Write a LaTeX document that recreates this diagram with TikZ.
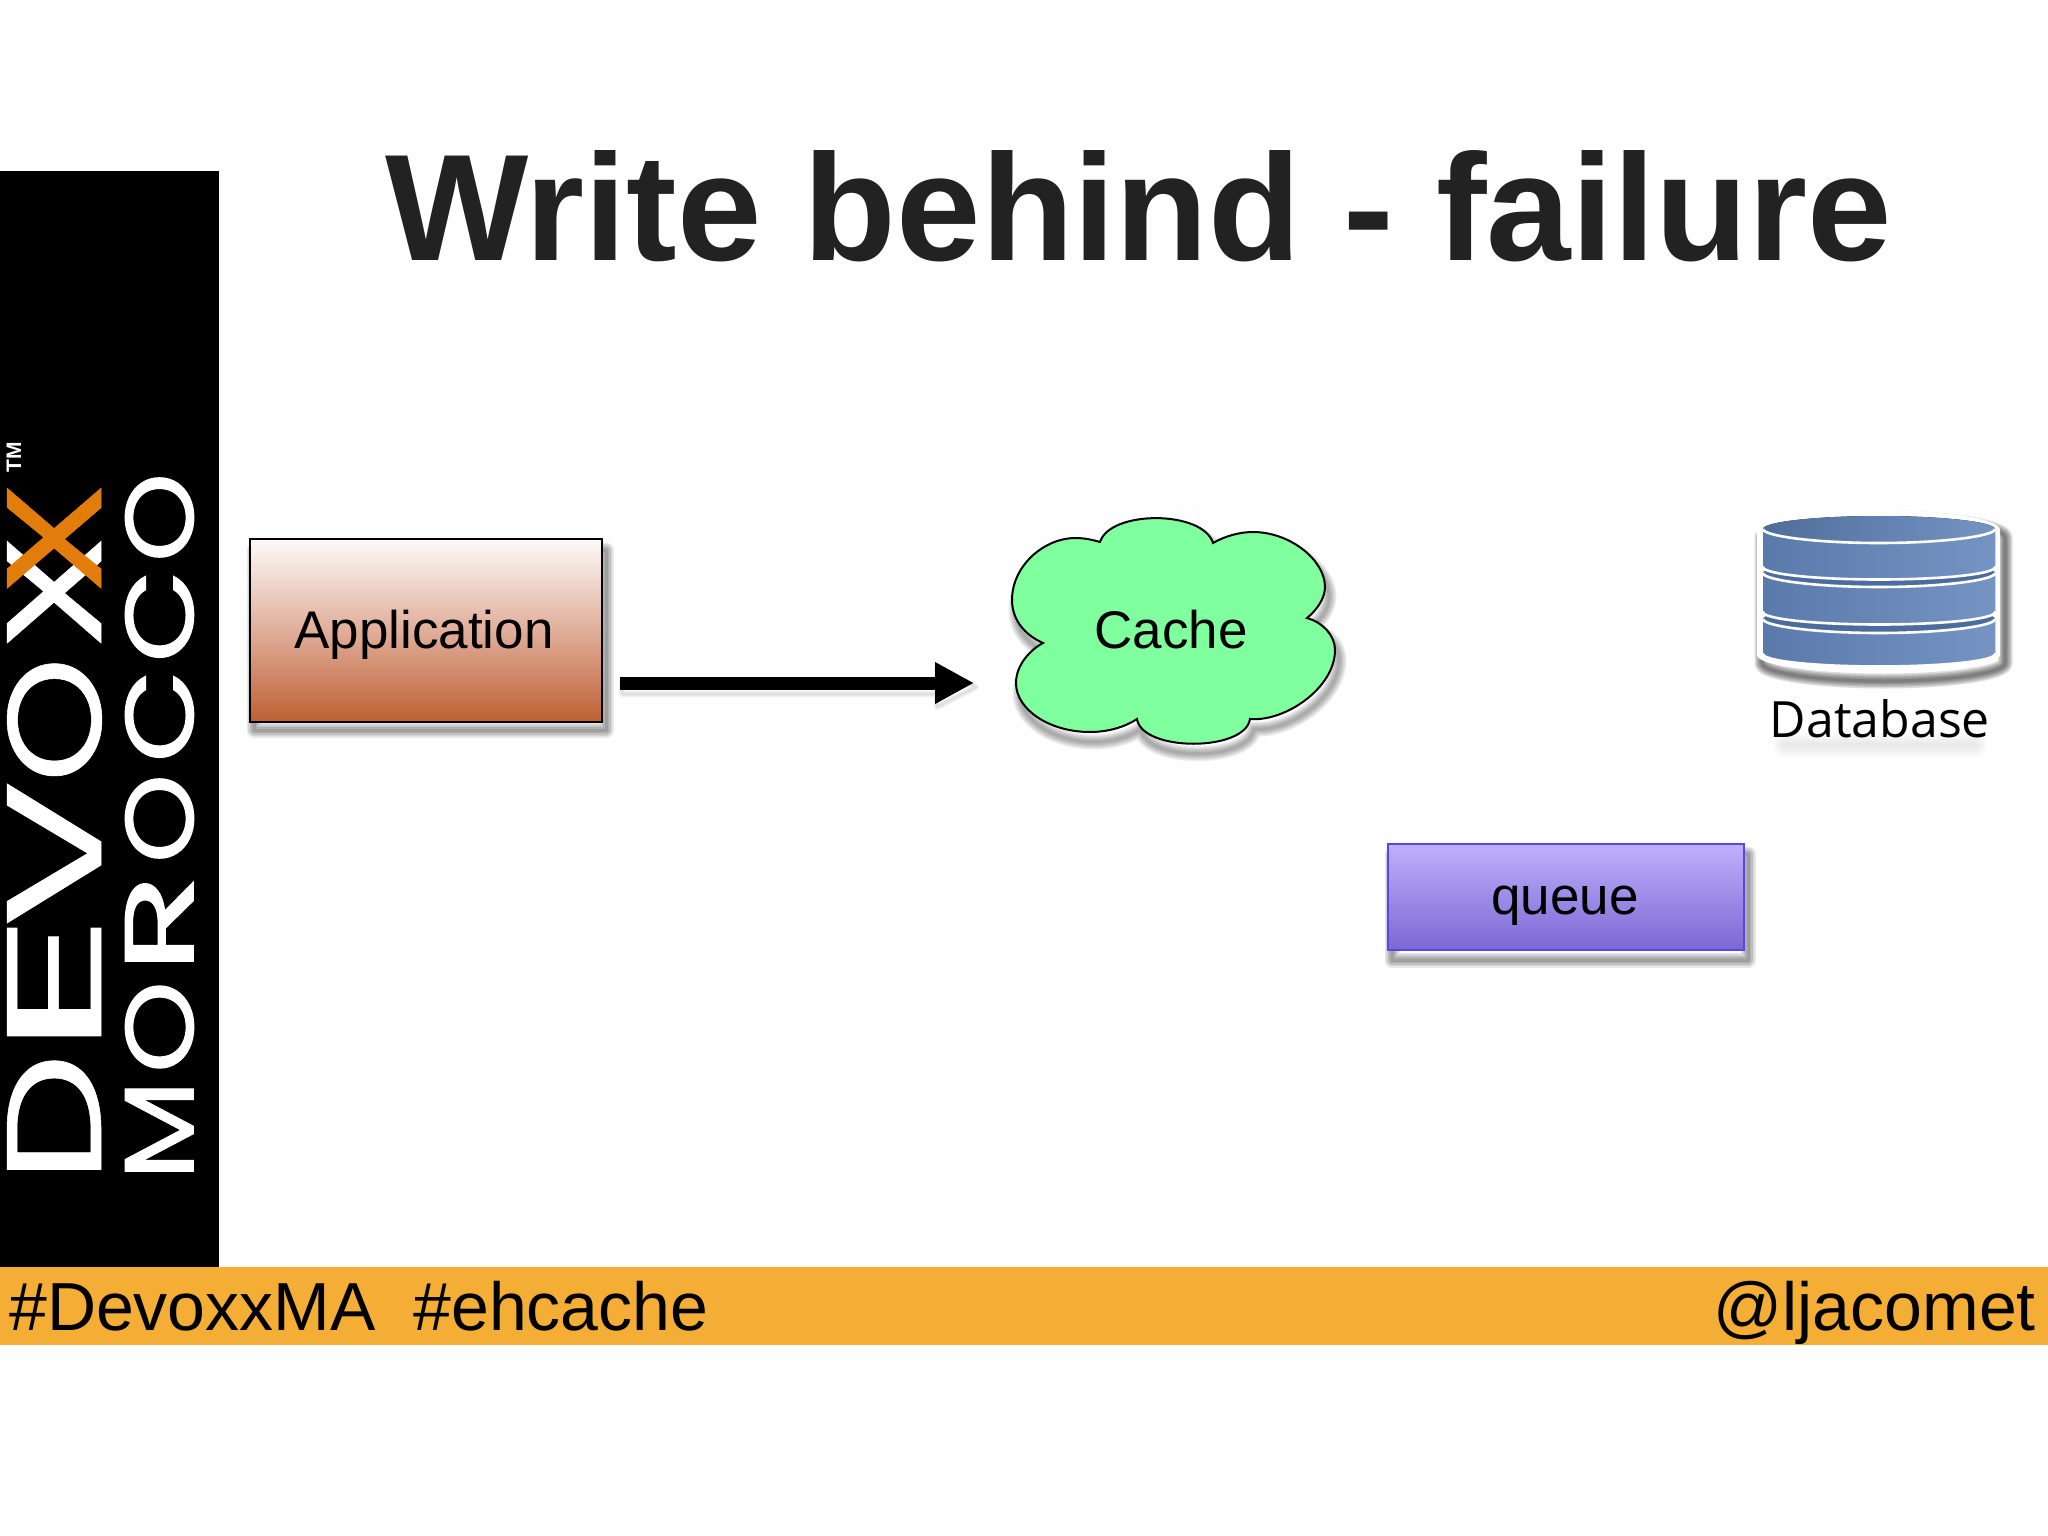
\documentclass[tikz,border=0pt]{standalone}
\usepackage{fontspec}
\setmainfont{Liberation Sans}
\newfontfamily\logofont[FakeBold=0.4]{Poppins}
\newfontfamily\logofontb[FakeBold=1.2]{Poppins}
\newfontfamily\dbfont{Open Sans}
\usepackage{graphicx}
\usetikzlibrary{arrows.meta}
\definecolor{pagebg}{HTML}{FEFEFE}
\definecolor{bandorange}{HTML}{F4AE35}
\definecolor{logoorange}{HTML}{E27C0A}
\definecolor{titlecol}{HTML}{222222}
\definecolor{cloudgreen}{HTML}{80FF9E}
\definecolor{appTop}{HTML}{FDFAF9}
\definecolor{appMid}{HTML}{E0AE9A}
\definecolor{appBot}{HTML}{BE5F33}
\definecolor{qTop}{HTML}{BFAFFB}
\definecolor{qBot}{HTML}{7B68D4}
\definecolor{qLine}{HTML}{5A45E8}
\definecolor{dbL}{HTML}{5A7AAB}
\definecolor{dbR}{HTML}{7594C4}
\definecolor{dbBand}{HTML}{4D6C9E}
\newcommand{\lt}[2]{\resizebox{#1pt}{\logoh}{#2}}
\newcommand{\softshadow}[4]{% dx, dy, opacity, path
  \begin{scope}[shift={(#1,#2)}]
  \foreach \w in {15,12,9,6,3}{\draw[black,opacity=#3,line width=\w pt,line join=round] #4;}
  \end{scope}}
\newcommand{\dbcyl}[2]{% top side y, bottom side y
  \fill[left color=dbL,right color=dbR] (1763,#1) -- (1763,#2)
    .. controls (1763,#2+7) and (1815,#2+12.5) .. (1879,#2+12.5)
    .. controls (1943,#2+12.5) and (1995,#2+7) .. (1995,#2) -- (1995,#1) -- cycle;
  \draw[white,line width=2.6pt,line cap=round] (1763,#2)
    .. controls (1763,#2+7) and (1815,#2+12.5) .. (1879,#2+12.5)
    .. controls (1943,#2+12.5) and (1995,#2+7) .. (1995,#2);
}
\newcommand{\dbdisc}[2]{% centre y, fill options
  \fill[#2] (1763,#1) .. controls (1763,#1-7) and (1815,#1-13) .. (1879,#1-13)
    .. controls (1943,#1-13) and (1995,#1-7) .. (1995,#1)
    .. controls (1995,#1+7) and (1943,#1+14) .. (1879,#1+14)
    .. controls (1815,#1+14) and (1763,#1+7) .. (1763,#1) -- cycle;
  \draw[white,line width=2.6pt] (1763,#1) .. controls (1763,#1+7) and (1815,#1+14) .. (1879,#1+14)
    .. controls (1943,#1+14) and (1995,#1+7) .. (1995,#1);
}
\tikzset{
  boxlabel/.style={font=\fontsize{53pt}{60pt}\selectfont,text=black,anchor=base,inner sep=0pt},
  footer/.style={font=\fontsize{68pt}{80pt}\selectfont,text=black,inner sep=0pt},
}
\begin{document}
\begin{tikzpicture}[x=1pt,y=-1pt]
\useasboundingbox (0,0) rectangle (2048,1536);
\fill[pagebg] (0,0) rectangle (2048,1536);
% side band and footer
\fill[black] (0,171) rectangle (218.5,1268);
\fill[bandorange] (0,1267) rectangle (2048,1345);
% logo
\def\logoh{94pt}
\node[rotate=90,inner sep=0pt,text=white,font=\logofont\fontsize{100pt}{100pt}\selectfont] (devoxx) at (54.5,825.5)
 {\kern-12.6pt\lt{131}{D}\kern-5pt\lt{147}{E}\kern-17pt\lt{149}{V}\kern-4pt\lt{126}{O}\kern5pt\lt{119}{X}\kern-64pt\textcolor{logoorange}{\lt{117}{X}}};
\def\logoh{68pt}
\node[rotate=90,inner sep=0pt,text=white,font=\logofontb\fontsize{100pt}{100pt}\selectfont] (morocco) at (159.5,822.5)
 {\kern-8pt\lt{100}{M}\kern7pt\lt{92}{O}\kern7.5pt\lt{100}{R}\kern10.5pt\lt{89}{O}\kern11.5pt\lt{93}{C}\kern7pt\lt{93}{C}\kern7.5pt\lt{89}{O}};
\node[rotate=90,inner sep=0pt,text=white,font=\bfseries\fontsize{21pt}{21pt}\selectfont] (tm) at (14,457) {TM};
% title
\node[anchor=base,inner sep=0pt,text=titlecol,font=\bfseries\fontsize{151.8pt}{160pt}\selectfont] (title) at (1138.5,260) {Write behind - failure};
% footer
\node[footer,anchor=base west] (tags) at (9,1330) {\#DevoxxMA\ \ \#ehcache};
\node[footer,anchor=base east] (handle) at (2036,1330) {@ljacomet};
% application
\softshadow{4}{10}{.085}{(250,540) rectangle (602,720)}
\node[draw=black,line width=2pt,minimum width=352pt,minimum height=183pt,inner sep=0pt,top color=appTop,bottom color=appBot,middle color=appMid] (app) at (425.5,630.5) {};
\node[boxlabel] (applabel) at (424,648) {Application};
% arrow
\coordinate (arrowstart) at (620,683);
\coordinate (arrowend) at (974,683);
\begin{scope}[shift={(2,4)}]
\foreach \w in {6,3}{\draw[black,opacity=.06,line width=\w pt,line join=round] (620,677) -- (935,677) -- (935,664) -- (974,683) -- (935,703) -- (935,690) -- (620,690) -- cycle;}
\end{scope}
\draw[-{Triangle[length=39pt,width=39pt]},line width=13pt,black] (arrowstart) -- (arrowend);
% cloud
\def\cloudpath{(1100,542) .. controls (1110,510) and (1203,510) .. (1213,543)
 .. controls (1225,536) and (1240,532) .. (1253,532)
 .. controls (1290,532) and (1325,560) .. (1325,587)
 .. controls (1325,598) and (1317,610) .. (1307,618)
 .. controls (1322,622) and (1335,635) .. (1335,650)
 .. controls (1335,688) and (1285,722) .. (1250,719)
 .. controls (1245,752) and (1142,752) .. (1137,719)
 .. controls (1125,727) and (1108,732) .. (1090,732)
 .. controls (1050,732) and (1016,710) .. (1016,683)
 .. controls (1016,665) and (1030,650) .. (1043,643)
 .. controls (1025,635) and (1012,620) .. (1012,600)
 .. controls (1012,565) and (1045,538) .. (1075,538)
 .. controls (1085,538) and (1093,540) .. cycle}
\softshadow{4}{10}{.075}{\cloudpath}
\fill[cloudgreen] \cloudpath;
\draw[black,line width=2pt,line join=miter] \cloudpath;
\node[boxlabel] (cache) at (1171,648) {Cache};
% queue
\softshadow{4}{10}{.085}{(1388,844) rectangle (1744,950)}
\node[draw=qLine,line width=2.5pt,minimum width=356pt,minimum height=106pt,inner sep=0pt,top color=qTop,bottom color=qBot] (queue) at (1566,897) {};
\node[boxlabel] (queuelabel) at (1565,914) {queue};
% database
\def\dbouter{(1757,530) .. controls (1757,518) and (1820,510) .. (1879,510)
 .. controls (1938,510) and (2000,518) .. (2000,530) -- (2000,655)
 .. controls (2000,665) and (1945,673) .. (1879,673)
 .. controls (1813,673) and (1757,665) .. (1757,655) -- cycle}
\softshadow{5}{8}{.13}{\dbouter}
\fill[white] \dbouter;
\dbcyl{619}{654}
\dbdisc{619}{dbBand}
\dbcyl{573}{612}
\dbdisc{573}{dbBand}
\dbcyl{529}{567}
\dbdisc{529}{left color=dbL!90!black,right color=dbR}
\foreach \w in {24,18,12,6}{\draw[black,opacity=.02,line width=\w pt,line cap=round] (1785,745) -- (1975,745);}
\node[inner sep=0pt,anchor=base,text=black,font=\dbfont\fontsize{50pt}{52pt}\selectfont] (db) at (1880,737) {Database};
\end{tikzpicture}
\end{document}
